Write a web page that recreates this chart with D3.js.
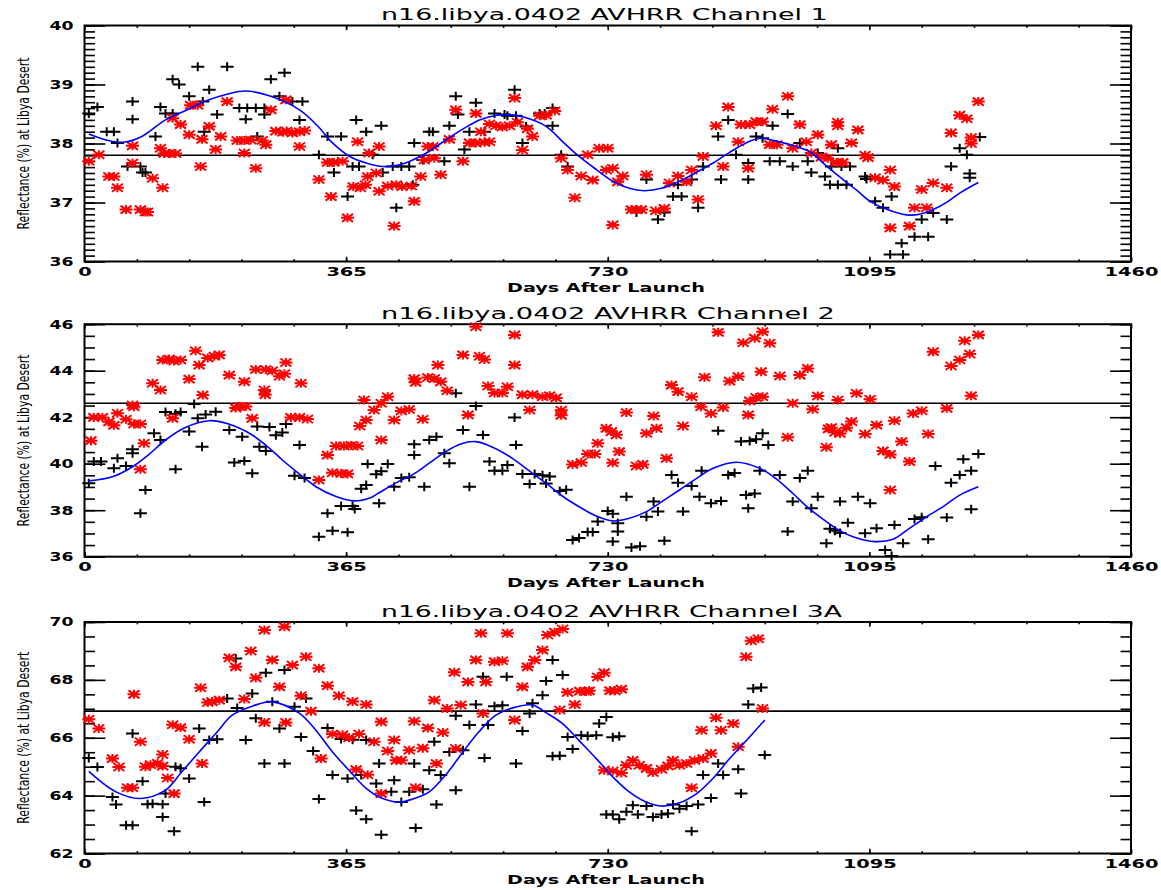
<!DOCTYPE html>
<html>
<head>
<meta charset="utf-8">
<script src="https://cdn.jsdelivr.net/npm/d3@7"></script>
<style>
  body { margin: 0; background: #fff; }
  svg { display: block; }
</style>
</head>
<body>
<svg id="chart" width="1161" height="890"></svg>
<script>
// Shared x axis: days after launch
const xTickValues = [0, 365, 730, 1095, 1460];
const xMinorStep = 73;
const xLabel = "Days After Launch";
const yLabel = "Reflectance (%) at Libya Desert";

// ---------- Channel 1 ----------
const ch1Title = "n16.libya.0402 AVHRR Channel 1";
const ch1YTicks = [36, 37, 38, 39, 40];
const ch1Ref = 37.80;
const ch1Plus = [
  [6,38.51],[18,38.62],[31,38.20],[41,38.20],[46,38.01],[60,37.61],[67,38.71],[67,38.41],[78,37.61],[81,37.51],
  [85,37.51],[99,38.12],[106,38.62],[113,38.51],[123,38.51],[123,39.09],[132,39.00],[146,38.80],[158,39.30],[165,38.71],
  [167,38.20],[174,38.91],[185,38.49],[199,39.30],[216,38.60],[225,38.41],[227,38.60],[239,38.60],[241,38.12],[251,38.60],
  [251,38.49],[260,39.09],[272,38.80],[279,39.20],[290,38.71],[300,38.40],[304,38.71],[327,37.81],[339,38.12],[348,37.51],
  [358,38.12],[367,37.10],[374,37.61],[379,38.40],[383,37.61],[393,38.20],[402,37.81],[414,38.30],[416,37.51],[430,37.61],
  [435,36.91],[442,37.61],[453,37.61],[458,37.30],[460,38.01],[472,37.72],[481,38.20],[486,38.20],[502,37.70],[509,38.30],
  [518,38.80],[521,38.49],[530,37.90],[537,38.20],[546,38.69],[558,38.20],[572,38.51],[586,38.49],[590,38.47],[600,38.91],
  [602,38.47],[611,38.01],[616,38.29],[635,38.51],[642,38.51],[653,38.60],[653,38.30],[665,37.81],[674,37.61],[770,36.83],
  [784,37.39],[800,36.71],[809,36.83],[821,37.10],[828,37.30],[833,37.10],[847,37.39],[856,36.91],[863,37.61],[884,38.12],
  [888,37.39],[898,38.40],[909,37.81],[926,37.67],[926,37.39],[937,38.12],[946,38.09],[956,37.70],[960,38.30],[970,37.70],
  [981,38.50],[988,37.61],[998,38.01],[1009,37.70],[1014,37.51],[1023,37.84],[1033,37.44],[1040,37.30],[1042,37.61],[1051,37.30],
  [1051,37.92],[1056,37.61],[1063,37.30],[1068,37.61],[1089,37.44],[1091,37.40],[1103,37.02],[1114,36.91],[1124,36.12],[1126,37.10],
  [1140,36.31],[1142,36.12],[1158,36.42],[1168,36.71],[1177,36.42],[1184,36.82],[1203,36.71],[1209,37.61],[1221,37.92],[1231,37.81],
  [1235,37.49],[1235,37.42],[1249,38.11]
];
const ch1Star = [
  [6,37.70],[20,37.81],[34,37.44],[41,37.44],[46,37.25],[58,36.88],[67,37.96],[67,37.67],[78,36.88],[85,36.84],
  [88,36.84],[95,37.41],[106,37.92],[109,37.25],[111,37.83],[118,37.83],[123,38.43],[127,37.83],[134,38.32],[146,38.15],
  [148,38.65],[158,38.65],[162,37.61],[164,38.07],[174,38.29],[183,37.90],[190,38.12],[199,38.71],[213,38.05],[223,38.05],
  [223,37.84],[232,38.06],[239,37.58],[248,38.05],[253,37.98],[260,38.57],[267,38.21],[277,38.19],[281,38.74],[282,38.21],
  [290,38.18],[300,38.20],[300,37.95],[307,38.22],[327,37.39],[339,37.68],[344,37.10],[348,37.68],[360,37.70],[367,36.74],
  [375,37.27],[381,38.03],[385,37.25],[392,37.30],[395,37.44],[397,37.84],[407,37.50],[411,37.95],[411,37.19],[423,37.28],
  [432,36.60],[435,37.30],[443,37.27],[456,37.28],[460,37.02],[469,37.44],[474,37.72],[479,37.95],[486,37.95],[488,37.75],
  [497,37.47],[509,38.07],[518,38.57],[528,37.70],[537,38.01],[546,38.01],[546,38.51],[553,38.20],[558,38.02],[565,38.03],
  [565,38.33],[574,38.30],[583,38.28],[593,38.30],[600,38.77],[604,38.36],[611,37.89],[618,38.25],[625,38.12],[635,38.47],
  [644,38.48],[656,38.55],[665,37.75],[674,37.55],[684,37.08],[693,37.45],[702,37.81],[709,37.38],[718,37.92],[730,37.92],
  [728,37.55],[737,37.58],[737,36.62],[744,37.35],[751,37.45],[763,36.88],[770,36.88],[777,36.88],[784,37.47],[797,36.86],
  [809,36.90],[816,37.33],[828,37.45],[840,37.35],[847,37.55],[856,37.05],[863,37.78],[881,38.30],[891,37.61],[898,38.62],
  [912,38.03],[916,38.32],[926,37.58],[928,38.32],[937,38.37],[946,38.37],[956,37.98],[960,38.58],[966,37.98],[981,38.80],
  [988,37.92],[998,38.32],[1007,38.03],[1014,37.84],[1023,38.15],[1028,37.77],[1037,37.75],[1042,37.98],[1049,37.68],[1051,38.36],
  [1051,38.30],[1058,37.68],[1070,38.01],[1079,38.23],[1089,37.80],[1093,37.76],[1103,37.42],[1114,37.38],[1124,37.55],[1130,37.27],
  [1124,36.57],[1151,36.60],[1158,36.91],[1175,36.91],[1168,37.22],[1184,37.33],[1203,37.25],[1209,38.18],[1221,38.48],[1231,38.42],
  [1237,38.10],[1237,38.00],[1247,38.71]
];
const ch1Fit = [
  [6,38.16],[30,38.06],[53,38.02],[80,38.12],[113,38.40],[145,38.58],[169,38.72],[200,38.84],[225,38.89],[260,38.80],
  [300,38.57],[325,38.30],[346,38.01],[370,37.78],[393,37.67],[416,37.61],[440,37.64],[458,37.72],[480,37.86],[504,38.06],
  [530,38.26],[551,38.40],[575,38.48],[590,38.49],[615,38.44],[644,38.29],[668,38.02],[690,37.78],[715,37.55],[737,37.36],
  [760,37.24],[781,37.20],[805,37.24],[830,37.36],[855,37.52],[877,37.67],[900,37.85],[923,38.01],[942,38.09],[965,38.04],
  [990,37.96],[1012,37.86],[1035,37.62],[1058,37.39],[1080,37.18],[1096,37.02],[1120,36.88],[1147,36.79],[1165,36.80],[1184,36.88],
  [1205,37.02],[1221,37.16],[1247,37.34]
];

// ---------- Channel 2 ----------
const ch2Title = "n16.libya.0402 AVHRR Channel 2";
const ch2YTicks = [36, 38, 40, 42, 44, 46];
const ch2Ref = 42.60;
const ch2Plus = [
  [6,39.16],[13,40.09],[23,40.09],[41,39.80],[46,40.23],[58,39.90],[67,40.62],[67,40.45],[78,37.87],[85,38.87],
  [97,41.31],[106,41.02],[113,42.22],[127,42.15],[134,42.22],[127,39.76],[146,41.38],[153,42.57],[158,41.95],[169,42.12],
  [183,42.23],[164,40.73],[202,41.45],[209,40.05],[223,40.12],[220,41.16],[234,39.59],[241,41.60],[258,41.58],[244,40.73],
  [253,40.55],[267,41.22],[276,41.34],[281,41.71],[300,40.80],[293,39.48],[307,39.38],[327,36.86],[339,37.87],[346,37.12],
  [367,37.05],[358,38.18],[374,38.18],[377,38.05],[386,38.92],[393,39.08],[395,39.99],[407,39.55],[414,39.68],[411,38.30],
  [423,39.99],[432,39.01],[442,39.38],[453,39.42],[460,40.84],[460,40.37],[474,39.01],[481,41.02],[491,41.16],[502,40.45],
  [509,40.02],[518,43.03],[528,41.45],[537,39.01],[546,42.48],[556,41.23],[565,40.09],[572,39.70],[583,39.70],[590,39.94],
  [600,41.99],[602,40.80],[611,39.56],[628,39.56],[639,39.50],[649,39.45],[621,39.13],[644,39.15],[663,38.83],[672,38.88],
  [681,36.72],[690,36.80],[702,37.06],[709,37.06],[716,37.51],[730,37.97],[737,37.85],[737,36.65],[744,37.08],[744,37.44],
  [756,38.58],[763,36.40],[775,36.45],[784,37.72],[794,38.37],[800,37.94],[809,36.69],[819,39.51],[828,39.18],[835,37.94],
  [847,39.04],[858,38.58],[861,39.70],[874,38.30],[888,38.40],[884,41.42],[898,39.51],[907,39.60],[916,40.95],[928,40.98],
  [937,41.05],[923,38.65],[935,38.72],[926,38.08],[942,39.70],[946,41.31],[954,40.80],[970,39.51],[981,37.08],[988,38.37],
  [998,39.38],[1009,39.70],[1014,38.08],[1023,38.58],[1035,36.58],[1040,37.20],[1047,37.12],[1054,37.02],[1054,38.37],[1065,37.46],
  [1079,38.58],[1089,37.01],[1096,38.30],[1105,37.22],[1117,36.29],[1126,36.03],[1130,37.36],[1142,36.58],[1158,37.62],[1168,37.70],
  [1177,36.75],[1187,39.90],[1203,37.69],[1209,39.18],[1221,39.51],[1226,40.19],[1237,39.70],[1247,40.42],[1237,38.04]
];
const ch2Star = [
  [9,40.99],[13,41.99],[25,41.99],[34,41.80],[41,41.65],[46,42.17],[58,41.91],[67,42.52],[69,42.45],[69,41.71],
  [78,41.71],[83,40.88],[78,39.76],[95,43.46],[106,43.17],[109,44.46],[118,44.50],[125,44.42],[134,44.46],[123,41.95],
  [146,43.64],[155,44.86],[160,44.24],[165,42.95],[172,44.55],[181,44.62],[188,44.68],[202,43.81],[211,42.40],[216,42.46],
  [225,42.46],[223,43.53],[234,41.95],[239,44.05],[253,44.05],[262,44.00],[251,43.17],[252,42.97],[272,43.76],[279,43.87],
  [281,44.35],[288,41.99],[300,41.99],[311,41.92],[302,43.46],[327,39.30],[339,40.37],[346,39.61],[358,39.58],[367,39.56],
  [351,40.76],[362,40.76],[372,40.78],[381,40.76],[384,41.62],[390,42.74],[393,41.88],[404,42.31],[414,41.02],[414,42.60],
  [423,42.88],[432,41.88],[442,42.27],[453,42.33],[460,43.66],[462,43.50],[472,41.91],[479,43.71],[488,43.66],[497,43.52],
  [493,44.24],[506,43.14],[528,44.68],[535,42.10],[546,45.89],[551,44.62],[558,44.48],[563,43.34],[572,43.04],[583,43.04],
  [590,43.31],[600,45.54],[600,44.24],[611,42.97],[625,42.97],[639,42.88],[649,42.92],[658,42.83],[621,42.31],[665,42.30],
  [665,42.08],[681,39.97],[693,40.05],[702,40.42],[712,40.42],[716,40.88],[728,41.52],[735,41.38],[742,41.24],[737,40.04],
  [746,40.52],[756,42.20],[770,39.90],[779,39.97],[784,41.31],[794,42.05],[798,41.52],[812,40.23],[819,43.38],[828,43.10],
  [835,41.62],[847,42.88],[860,42.45],[874,42.16],[891,42.42],[865,43.72],[884,45.65],[900,43.55],[912,43.75],[919,45.20],
  [935,45.40],[926,42.10],[928,42.70],[937,42.85],[946,45.68],[956,45.18],[944,43.96],[946,42.88],[970,43.77],[981,41.14],
  [988,42.60],[998,43.81],[1009,44.10],[1016,42.34],[1023,42.91],[1035,40.71],[1038,41.50],[1042,41.55],[1047,41.35],[1054,41.30],
  [1063,41.55],[1051,42.74],[1070,41.81],[1077,43.03],[1089,41.28],[1096,42.77],[1105,41.66],[1114,40.55],[1124,40.40],[1124,38.87],
  [1130,41.85],[1140,40.95],[1151,40.09],[1156,42.16],[1168,42.28],[1177,41.28],[1184,44.82],[1203,42.38],[1209,44.20],[1221,44.46],
  [1228,45.29],[1235,44.72],[1237,42.92],[1247,45.54]
];
const ch2Fit = [
  [6,39.26],[40,39.45],[67,39.87],[90,40.40],[113,41.02],[140,41.55],[174,41.85],[200,41.72],[230,41.31],[255,40.75],
  [276,40.16],[300,39.55],[323,39.01],[350,38.60],[376,38.40],[400,38.55],[411,38.75],[439,39.25],[458,39.53],[480,40.00],
  [504,40.52],[525,40.85],[546,40.95],[570,40.70],[597,40.23],[620,39.70],[644,39.16],[667,38.60],[690,38.15],[714,37.75],
  [737,37.54],[760,37.65],[784,37.94],[807,38.40],[830,38.87],[853,39.35],[877,39.80],[909,40.06],[942,39.80],[965,39.35],
  [988,38.73],[1010,38.10],[1035,37.51],[1055,37.10],[1072,36.86],[1103,36.65],[1128,36.75],[1150,37.20],[1175,37.72],[1200,38.20],
  [1221,38.65],[1247,39.01]
];

// ---------- Channel 3A ----------
const ch3Title = "n16.libya.0402 AVHRR Channel 3A";
const ch3YTicks = [62, 64, 66, 68, 70];
const ch3Ref = 66.92;
const ch3Plus = [
  [6,65.30],[18,64.99],[39,63.95],[44,63.69],[58,62.98],[67,62.98],[67,66.15],[81,64.50],[88,63.70],[95,63.72],
  [109,63.70],[113,64.07],[109,63.26],[127,65.00],[134,64.95],[125,62.77],[146,64.59],[160,66.32],[167,63.78],[174,65.92],
  [185,65.95],[199,67.36],[211,68.74],[213,67.03],[225,65.92],[234,67.53],[239,66.67],[253,68.25],[251,65.11],[262,67.24],
  [272,66.32],[279,68.34],[279,65.11],[293,67.07],[302,66.03],[309,67.36],[319,65.54],[327,63.88],[339,66.34],[346,64.71],
  [358,65.96],[374,65.93],[393,65.92],[367,64.59],[379,63.49],[386,64.71],[393,63.18],[411,65.11],[407,64.42],[414,62.65],
  [428,64.13],[432,64.53],[442,63.78],[453,64.13],[460,65.11],[462,62.88],[472,64.22],[481,64.88],[488,65.86],[491,63.69],
  [497,64.71],[509,65.51],[518,66.76],[518,64.19],[528,65.57],[537,66.44],[546,67.15],[556,68.11],[558,65.30],[563,66.44],
  [572,67.09],[583,67.12],[589,68.11],[602,65.11],[611,66.23],[621,66.84],[625,67.19],[639,67.47],[644,67.96],[653,68.69],
  [653,65.36],[663,65.38],[667,68.17],[674,66.03],[681,65.61],[693,66.09],[702,66.06],[714,66.09],[718,66.49],[728,66.72],
  [737,66.02],[746,66.05],[728,63.35],[737,63.35],[746,63.18],[756,63.44],[765,63.67],[772,63.35],[784,63.64],[793,63.26],
  [805,63.35],[814,63.38],[821,63.69],[830,63.55],[840,63.64],[856,63.69],[874,63.92],[847,62.77],[863,64.71],[891,64.71],
  [884,65.11],[912,64.91],[916,64.07],[926,67.15],[933,67.70],[944,67.74],[949,65.40]
];
const ch3Star = [
  [6,66.64],[20,66.32],[39,65.28],[48,64.99],[60,64.27],[67,64.27],[69,67.50],[78,65.86],[85,65.00],[92,65.07],
  [102,65.12],[109,65.02],[109,65.42],[116,64.61],[125,64.07],[123,66.45],[134,66.35],[146,65.95],[162,67.73],[164,65.11],
  [172,67.22],[178,67.25],[188,67.30],[202,68.76],[211,68.45],[223,67.34],[232,69.00],[239,68.07],[251,69.72],[251,66.53],
  [262,68.69],[272,67.76],[279,69.84],[281,66.53],[290,68.51],[302,67.45],[309,68.80],[316,66.92],[327,68.40],[330,65.28],
  [339,67.80],[355,67.45],[374,67.25],[393,67.15],[346,66.13],[360,66.10],[383,66.13],[369,66.00],[379,64.90],[395,64.72],
  [404,65.86],[414,66.55],[414,64.07],[423,65.54],[432,65.92],[435,65.22],[442,65.22],[453,65.57],[472,65.64],[460,66.57],
  [462,64.27],[479,66.34],[488,67.30],[491,65.11],[500,66.18],[506,67.01],[516,68.26],[518,65.63],[525,67.13],[535,67.93],
  [546,68.69],[553,69.61],[556,66.84],[560,67.93],[572,68.63],[583,68.66],[590,69.61],[600,66.61],[611,67.76],[618,68.45],
  [628,68.69],[639,69.03],[646,69.55],[656,69.65],[667,69.76],[663,66.96],[674,67.57],[684,67.15],[691,67.61],[700,67.60],
  [704,67.62],[716,68.10],[725,68.25],[733,67.63],[740,67.62],[749,67.68],[725,64.88],[737,64.85],[749,64.78],[756,65.05],
  [765,65.22],[774,65.05],[784,64.94],[793,64.80],[805,64.91],[814,65.03],[821,65.22],[830,65.05],[840,65.11],[851,65.22],
  [863,65.28],[874,65.46],[847,64.27],[861,66.26],[881,66.69],[888,66.26],[905,66.49],[912,65.69],[923,68.80],[930,69.35],
  [940,69.42],[946,67.01]
];
const ch3Fit = [
  [6,64.84],[44,64.13],[78,63.90],[113,64.19],[135,64.80],[160,65.51],[185,66.20],[206,66.78],[235,67.10],[262,67.24],
  [300,66.84],[323,66.25],[346,65.51],[370,64.85],[393,64.25],[411,63.95],[430,63.80],[442,63.78],[460,63.90],[481,64.13],
  [505,64.75],[528,65.51],[550,66.20],[574,66.78],[600,67.05],[625,67.13],[645,66.85],[667,66.49],[690,65.90],[714,65.28],
  [737,64.65],[760,64.13],[782,63.80],[805,63.64],[830,63.75],[854,64.07],[877,64.60],[900,65.28],[925,65.95],[949,66.61]
];

// ---------- layout ----------
const svg = d3.select("#chart");
const left = 84.5, right = 1131;
const fontFamily = "'DejaVu Sans', 'Liberation Sans', sans-serif";

const panels = [
  { title: ch1Title, titleWidth: 447, yTicks: ch1YTicks, yMinor: 0.1, ref: ch1Ref,
    plus: ch1Plus, star: ch1Star, fit: ch1Fit, top: 25.5, bottom: 261.5 },
  { title: ch2Title, titleWidth: 454, yTicks: ch2YTicks, yMinor: 0.5, ref: ch2Ref,
    plus: ch2Plus, star: ch2Star, fit: ch2Fit, top: 324.2, bottom: 556.7 },
  { title: ch3Title, titleWidth: 461, yTicks: ch3YTicks, yMinor: 0.5, ref: ch3Ref,
    plus: ch3Plus, star: ch3Star, fit: ch3Fit, top: 622, bottom: 853.5 }
];

const plusPath = "M-6.5,0H6.5M0,-4.5V4.5";
const starPath = "M-6.5,0H6.5M0,-4.5V4.5M-5.5,-4L5.5,4M-5.5,4L5.5,-4";

function styleLabels(sel, perChar) {
  sel.selectAll("text")
    .attr("fill", "#000")
    .style("font-family", fontFamily)
    .style("font-size", "12px")
    .style("font-weight", "bold")
    .attr("lengthAdjust", "spacingAndGlyphs")
    .attr("textLength", function () { return this.textContent.length * perChar; });
}

// Text stretched horizontally to a given width around its anchor
function stretchedText(parent, str, width, size, weight, anchor) {
  const t = parent.append("text")
    .attr("text-anchor", anchor)
    .style("font-family", fontFamily)
    .style("font-size", size + "px")
    .style("font-weight", weight)
    .text(str);
  const natural = t.node().getComputedTextLength();
  t.attr("transform", `scale(${width / natural},1)`);
  return t;
}

panels.forEach(p => {
  const w = right - left, h = p.bottom - p.top;
  const x = d3.scaleLinear().domain([0, 1460]).range([left, right]);
  const yDomain = d3.extent(p.yTicks);
  const y = d3.scaleLinear().domain(yDomain).range([p.bottom, p.top]);
  const xMinor = d3.range(0, 1460 + 1, xMinorStep);
  const yMinor = d3.range(yDomain[0], yDomain[1] + p.yMinor / 2, p.yMinor).map(v => +v.toFixed(3));
  const xLen = 0.02 * h, yLen = 0.02 * w;

  const g = svg.append("g");

  // Minor ticks on all four sides
  g.append("g").attr("transform", `translate(0,${p.bottom})`)
    .call(d3.axisBottom(x).tickValues(xMinor).tickSizeInner(-xLen / 2).tickSizeOuter(0).tickFormat(""));
  g.append("g").attr("transform", `translate(0,${p.top})`)
    .call(d3.axisTop(x).tickValues(xMinor).tickSizeInner(-xLen / 2).tickSizeOuter(0).tickFormat(""));
  g.append("g").attr("transform", `translate(${left},0)`)
    .call(d3.axisLeft(y).tickValues(yMinor).tickSizeInner(-yLen / 2).tickSizeOuter(0).tickFormat(""));
  g.append("g").attr("transform", `translate(${right},0)`)
    .call(d3.axisRight(y).tickValues(yMinor).tickSizeInner(-yLen / 2).tickSizeOuter(0).tickFormat(""));

  // Major ticks; labels on bottom and left only
  const xb = g.append("g").attr("transform", `translate(0,${p.bottom})`)
    .call(d3.axisBottom(x).tickValues(xTickValues).tickSizeInner(-xLen).tickSizeOuter(0).tickPadding(6).tickFormat(d3.format("d")));
  styleLabels(xb, 13.5);
  g.append("g").attr("transform", `translate(0,${p.top})`)
    .call(d3.axisTop(x).tickValues(xTickValues).tickSizeInner(-xLen).tickSizeOuter(0).tickFormat(""));
  const yl = g.append("g").attr("transform", `translate(${left},0)`)
    .call(d3.axisLeft(y).tickValues(p.yTicks).tickSizeInner(-yLen).tickSizeOuter(0).tickPadding(11).tickFormat(d3.format("d")));
  styleLabels(yl, 12);
  g.append("g").attr("transform", `translate(${right},0)`)
    .call(d3.axisRight(y).tickValues(p.yTicks).tickSizeInner(-yLen).tickSizeOuter(0).tickFormat(""));

  g.selectAll(".domain").remove();
  g.selectAll(".tick line").attr("stroke", "#000").attr("stroke-width", 1.6);

  // Plot frame
  g.append("rect")
    .attr("x", left).attr("y", p.top).attr("width", w).attr("height", h)
    .attr("fill", "none").attr("stroke", "#000").attr("stroke-width", 2);

  // Reference level
  g.append("line")
    .attr("x1", left).attr("x2", right)
    .attr("y1", y(p.ref)).attr("y2", y(p.ref))
    .attr("stroke", "#000").attr("stroke-width", 1.6);

  // Black plus markers
  g.append("g").selectAll("path").data(p.plus).join("path")
    .attr("d", plusPath)
    .attr("transform", d => `translate(${x(d[0])},${y(d[1])})`)
    .attr("fill", "none").attr("stroke", "#000").attr("stroke-width", 2);

  // Red asterisk markers
  g.append("g").selectAll("path").data(p.star).join("path")
    .attr("d", starPath)
    .attr("transform", d => `translate(${x(d[0])},${y(d[1])})`)
    .attr("fill", "none").attr("stroke", "#ff0000").attr("stroke-width", 2);

  // Annual fit curve
  g.append("path").datum(p.fit)
    .attr("d", d3.line().x(d => x(d[0])).y(d => y(d[1])).curve(d3.curveCatmullRom))
    .attr("fill", "none").attr("stroke", "#0000ff").attr("stroke-width", 1.6);

  // Title
  const tg = g.append("g").attr("transform", `translate(381,${p.top - 5.5})`);
  stretchedText(tg, p.title, p.titleWidth, 16, "normal", "start");

  // X axis title
  const xg = g.append("g").attr("transform", `translate(507,${p.bottom + 30})`);
  stretchedText(xg, xLabel, 198, 13, "bold", "start");

  // Y axis title
  const yg = g.append("g").attr("transform", `translate(29,${(p.top + p.bottom) / 2}) rotate(-90)`);
  stretchedText(yg, yLabel, 172, 16, "normal", "middle");
});
</script>
</body>
</html>
